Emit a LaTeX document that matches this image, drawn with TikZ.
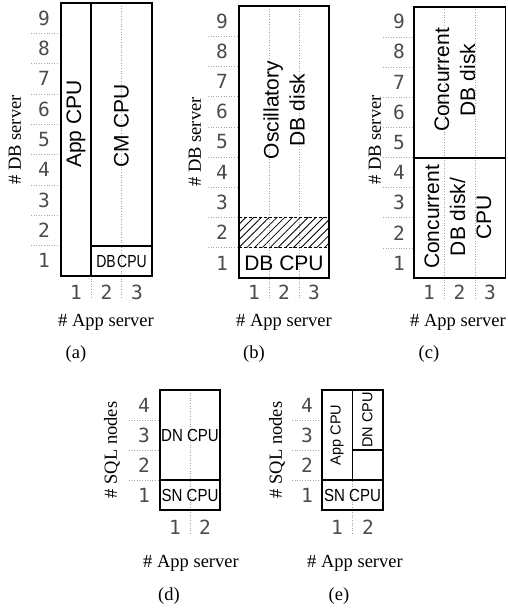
\documentclass[tikz,border=0pt]{standalone}
\usepackage{fontspec}
\setmainfont{Liberation Serif}
\newfontfamily\boxfont{Liberation Sans}
\newfontfamily\tickfont{DejaVu Sans Mono}
\usetikzlibrary{patterns.meta}
\begin{document}
\begin{tikzpicture}[x=1pt,y=-1pt,
  frame/.style={line width=1.6pt, line join=miter, line cap=rect},
  gridl/.style={dotted, line width=0.6pt, black!35},
  tick/.style={font=\tickfont\fontsize{19.5}{22}\selectfont, text=black!70, inner sep=0pt},
  axl/.style={font=\fontsize{18.5}{22}\selectfont, inner sep=0pt},
  subcap/.style={font=\fontsize{18.5}{22}\selectfont, inner sep=0pt},
  lbl/.style={font=\boxfont\fontsize{21}{26}\selectfont, inner sep=0pt, align=center},
  slbl/.style={font=\boxfont\fontsize{17.5}{20}\selectfont, inner sep=0pt},
  elbl/.style={font=\boxfont\fontsize{14.5}{17}\selectfont, inner sep=0pt},
  hatchbox/.style={pattern={Lines[angle=45,distance=5.5pt,line width=0.8pt]}},
  hatchedge/.style={line width=1.2pt, dash pattern=on 3pt off 2pt},
]
\useasboundingbox[fill=white] (0,0) rectangle (507,611);

% ---------------- panel (a) ----------------
\foreach \k in {1,...,8} \draw[gridl] (31,{276-\k*30.33}) -- (61,{276-\k*30.33});
\foreach \xx in {91.3,121.7} \draw[gridl] (\xx,3) -- (\xx,298);
\draw[frame] (61,3) rectangle (152,276);
\draw[frame] (91,3) -- (91,276);
\draw[frame] (91,245.7) -- (152,245.7);
\foreach \k in {1,...,9} \node[tick] (ay\k) at (44,{276-(\k-0.5)*30.33}) {\k};
\foreach \k/\xx in {1/76,2/106.5,3/137} \node[tick] (ax\k) at (\xx,292) {\k};
\node[lbl, rotate=90] (appcpu) at (76,124) {App CPU};
\node[lbl, rotate=90] (cmcpu) at (121.5,126) {CM CPU};
\node[slbl] (dbcpua) at (121.5,261) {\scalebox{0.8}[1]{DB\kern0.1em CPU}};
\node[axl, rotate=90] (ayl) at (15,140) {\# DB server};
\node[axl] (axl) at (106,322) {\# App server};
\node[subcap] (capa) at (76,354) {(a)};

% ---------------- panel (b) ----------------
\foreach \k in {1,...,8} \draw[gridl] (208,{278-\k*30.22}) -- (239,{278-\k*30.22});
\foreach \xx in {269,299} \draw[gridl] (\xx,6) -- (\xx,298);
\fill[hatchbox] (239,217.6) rectangle (329,247.8);
\draw[hatchedge] (239,217.6) -- (329,217.6);
\draw[hatchedge] (239,247.8) -- (329,247.8);
\draw[frame] (239,6) rectangle (329,278);
\foreach \k in {1,...,9} \node[tick] (by\k) at (222,{278-(\k-0.5)*30.22}) {\k};
\foreach \k/\xx in {1/254,2/284,3/314} \node[tick] (bx\k) at (\xx,292) {\k};
\node[lbl, rotate=90] (osc) at (284,110) {Oscillatory\\DB disk};
\node[lbl] (dbcpub) at (284,263) {DB CPU};
\node[axl, rotate=90] (byl) at (195,142) {\# DB server};
\node[axl] (bxl) at (284,322) {\# App server};
\node[subcap] (capb) at (254,354) {(b)};

% ---------------- panel (c) ----------------
\foreach \k in {1,...,8} \draw[gridl] (383,{278-\k*30.15}) -- (414,{278-\k*30.15});
\foreach \xx in {444.5,475} \draw[gridl] (\xx,6.7) -- (\xx,298);
\draw[frame] (414,6.7) rectangle (505.5,278);
\draw[frame] (414,158) -- (505.5,158);
\foreach \k in {1,...,9} \node[tick] (cy\k) at (399,{278-(\k-0.5)*30.15}) {\k};
\foreach \k/\xx in {1/429,2/459.5,3/490} \node[tick] (cx\k) at (\xx,292) {\k};
\node[lbl, rotate=90] (ccdisk) at (455,80) {Concurrent\\DB disk};
\node[lbl, rotate=90] (ccboth) at (458,217) {Concurrent\\DB disk/\\CPU};
\node[axl, rotate=90] (cyl) at (375,140) {\# DB server};
\node[axl] (cxl) at (458,322) {\# App server};
\node[subcap] (capc) at (429,354) {(c)};

% ---------------- panel (d) ----------------
\foreach \yy in {420,450,480} \draw[gridl] (129,\yy) -- (160,\yy);
\draw[gridl] (190,390) -- (190,535);
\draw[frame] (160,390) rectangle (220,510);
\draw[frame] (160,480) -- (220,480);
\foreach \k in {1,...,4} \node[tick] (dy\k) at (144,{510-(\k-0.5)*30}) {\k};
\foreach \k/\xx in {1/175,2/205} \node[tick] (dx\k) at (\xx,527) {\k};
\node[slbl] (dncpud) at (190,435) {\scalebox{0.86}[1]{DN CPU}};
\node[slbl] (sncpud) at (190,495) {\scalebox{0.86}[1]{SN CPU}};
\node[axl, rotate=90] (dyl) at (112,450) {\# SQL nodes};
\node[axl] (dxl) at (191,563) {\# App server};
\node[subcap] (capd) at (169,596) {(d)};

% ---------------- panel (e) ----------------
\foreach \yy in {420,450,480} \draw[gridl] (292,\yy) -- (322,\yy);
\draw[gridl] (352.5,390) -- (352.5,535);
\draw[frame] (322,390) rectangle (383,510);
\draw[frame] (322,480) -- (383,480);
\draw[frame] (352.5,390) -- (352.5,480);
\draw[frame] (352.5,450) -- (383,450);
\foreach \k in {1,...,4} \node[tick] (ey\k) at (307,{510-(\k-0.5)*30}) {\k};
\foreach \k/\xx in {1/337,2/368} \node[tick] (ex\k) at (\xx,527) {\k};
\node[elbl, rotate=90] (appcpue) at (337,435) {App CPU};
\node[elbl, rotate=90] (dncpue) at (367.5,420) {DN CPU};
\node[slbl] (sncpue) at (352.5,495) {\scalebox{0.86}[1]{SN CPU}};
\node[axl, rotate=90] (eyl) at (277,450) {\# SQL nodes};
\node[axl] (exl) at (355,563) {\# App server};
\node[subcap] (cape) at (339,596) {(e)};
\end{tikzpicture}
\end{document}
